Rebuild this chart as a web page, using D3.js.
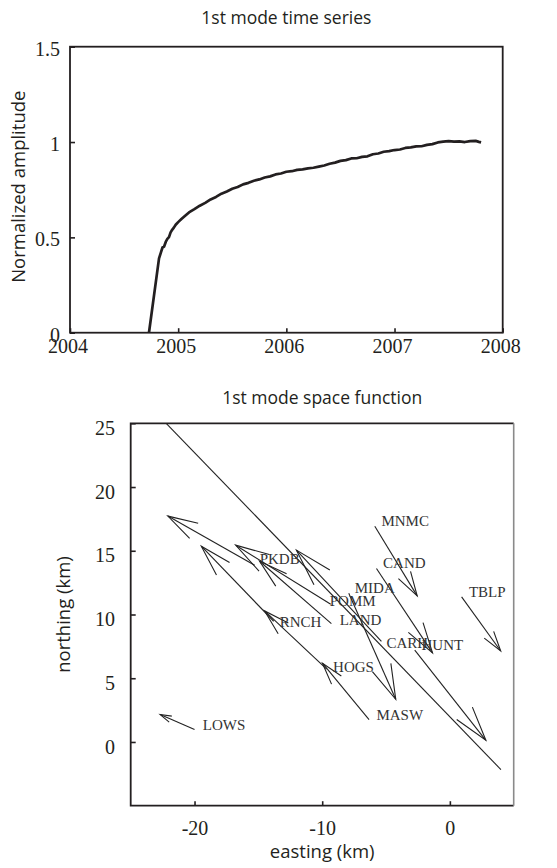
<!DOCTYPE html>
<html>
<head>
<meta charset="utf-8">
<script src="https://cdn.jsdelivr.net/npm/d3@7"></script>
<style>
  body { margin: 0; background: #fff; }
  svg { display: block; }
</style>
</head>
<body>
<svg id="fig" width="557" height="868"></svg>
<script>
// ---- 1st mode time series ----
const years = [
  2004.73, 2004.823, 2004.84, 2004.855, 2004.87, 2004.885, 2004.90, 2004.915, 2004.93, 2004.946,
  2004.96, 2004.977, 2005.00, 2005.03, 2005.07, 2005.10, 2005.15, 2005.20, 2005.25, 2005.30,
  2005.35, 2005.40, 2005.45, 2005.50, 2005.55, 2005.60, 2005.65, 2005.70, 2005.75, 2005.80,
  2005.85, 2005.90, 2005.95, 2006.00, 2006.05, 2006.10, 2006.15, 2006.20, 2006.25, 2006.30,
  2006.35, 2006.40, 2006.45, 2006.50, 2006.55, 2006.60, 2006.65, 2006.70, 2006.75, 2006.80,
  2006.85, 2006.90, 2006.95, 2007.00, 2007.05, 2007.10, 2007.15, 2007.20, 2007.25, 2007.30,
  2007.35, 2007.40, 2007.45, 2007.50, 2007.55, 2007.60, 2007.65, 2007.70, 2007.75, 2007.78,
  2007.80
];
const amplitude = [
  0.000, 0.390, 0.420, 0.447, 0.452, 0.476, 0.492, 0.501, 0.526, 0.541,
  0.551, 0.566, 0.580, 0.596, 0.616, 0.631, 0.648, 0.666, 0.681, 0.699,
  0.712, 0.729, 0.741, 0.755, 0.764, 0.778, 0.786, 0.797, 0.804, 0.814,
  0.820, 0.830, 0.835, 0.844, 0.847, 0.854, 0.857, 0.862, 0.865, 0.871,
  0.877, 0.886, 0.892, 0.901, 0.905, 0.914, 0.915, 0.922, 0.925, 0.936,
  0.940, 0.949, 0.952, 0.958, 0.961, 0.969, 0.972, 0.977, 0.978, 0.985,
  0.989, 0.998, 1.002, 1.005, 1.002, 1.003, 1.000, 1.005, 1.006, 1.001,
  0.998
];
const yearTicks = [2004, 2005, 2006, 2007, 2008];
const ampTicks = [0, 0.5, 1, 1.5];
const ampTickLabels = ["0", "0.5", "1", "1.5"];

// ---- 1st mode space function (km) ----
const stations   = ["MNMC", "CAND", "TBLP", "MIDA", "HUNT", "CARH", "PKDB", "POMM", "LAND", "RNCH", "HOGS", "MASW", "LOWS"];
const east       = [-5.88, -5.75, 0.92, -7.92, -2.75, -5.36, -15.29, -9.33, -9.28, -13.80, -9.65, -6.33, -20.00];
const north      = [16.93, 13.61, 11.38, 11.67, 7.20, 7.90, 13.87, 10.81, 9.29, 9.47, 5.71, 1.76, 0.97];
const dEast      = [3.32, 4.39, 3.06, 3.68, 5.57, -6.66, -6.80, -7.45, -5.62, -5.67, -4.86, -3.65, -2.69];
const dNorth     = [-5.47, -6.62, -4.24, -8.32, -7.07, 7.15, 3.85, 4.63, 4.89, 5.89, 4.57, 4.42, 1.18];
const labelEast  = [-5.36, -5.23, 1.49, -7.45, -2.22, -4.96, -14.90, -9.41, -8.63, -13.33, -9.15, -5.75, -19.35];
const labelNorth = [16.93, 13.61, 11.38, 11.65, 7.20, 7.39, 14.00, 10.65, 9.16, 9.03, 5.49, 1.76, 0.92];
const faultEast  = [-22.22, 4.00];
const faultNorth = [25.00, -2.17];
const eastTicks  = [-20, -10, 0];
const northTicks = [0, 5, 10, 15, 20, 25];

const svg = d3.select("#fig");
const serif = "'Liberation Serif', 'Times New Roman', serif";
const sans = "'Open Sans', 'Noto Sans', sans-serif";
const ink = "#231f20";

// ================= time-series panel =================
const tsBox = { x0: 70, x1: 502.7, y0: 46.7, y1: 332.7 };
const xT = d3.scaleLinear().domain([2004, 2008]).range([tsBox.x0, tsBox.x1]);
const yT = d3.scaleLinear().domain([0, 1.5]).range([tsBox.y1, tsBox.y0]);

const gTs = svg.append("g");

gTs.append("g")
  .attr("transform", `translate(0,${tsBox.y1})`)
  .call(d3.axisBottom(xT).tickValues(yearTicks).tickFormat(d3.format("d"))
        .tickSizeInner(-4.5).tickSizeOuter(0).tickPadding(6.4))
  .call(g => g.select(".domain").remove())
  .call(g => g.selectAll("line").attr("stroke", ink).attr("stroke-width", 1.6))
  .call(g => g.selectAll("text").attr("font-family", serif).attr("font-size", 20)
        .attr("fill", ink).attr("dx", -2.5));

gTs.append("g")
  .attr("transform", `translate(${tsBox.x0},0)`)
  .call(d3.axisLeft(yT).tickValues(ampTicks).tickFormat((d, i) => ampTickLabels[i])
        .tickSizeInner(-5).tickSizeOuter(0).tickPadding(10))
  .call(g => g.select(".domain").remove())
  .call(g => g.selectAll("line").attr("stroke", ink).attr("stroke-width", 1.6))
  .call(g => g.selectAll("text").attr("font-family", serif).attr("font-size", 20)
        .attr("fill", ink).attr("dy", "0.42em"));

const series = years.map((t, i) => [t, amplitude[i]]);
gTs.append("path")
  .datum(series)
  .attr("fill", "none")
  .attr("stroke", ink)
  .attr("stroke-width", 2.7)
  .attr("stroke-linejoin", "round")
  .attr("d", d3.line().x(d => xT(d[0])).y(d => yT(d[1])));

gTs.append("rect")
  .attr("x", tsBox.x0).attr("y", tsBox.y0)
  .attr("width", tsBox.x1 - tsBox.x0).attr("height", tsBox.y1 - tsBox.y0)
  .attr("fill", "none").attr("stroke", ink).attr("stroke-width", 1.8);

gTs.append("text")
  .attr("x", (tsBox.x0 + tsBox.x1) / 2).attr("y", 24)
  .attr("text-anchor", "middle")
  .attr("font-family", sans).attr("font-size", 17.5).attr("fill", ink)
  .text("1st mode time series");

gTs.append("text")
  .attr("transform", `translate(25,${(tsBox.y0 + tsBox.y1) / 2 - 3}) rotate(-90)`)
  .attr("text-anchor", "middle")
  .attr("font-family", sans).attr("font-size", 18.5).attr("fill", ink)
  .text("Normalized amplitude");

// ================= space-function panel =================
const mapBox = { x0: 130.7, x1: 513.7, y0: 423.3, y1: 805.7 };
const xB = d3.scaleLinear().domain([-25, 5]).range([mapBox.x0, mapBox.x1]);
const yB = d3.scaleLinear().domain([-5, 25]).range([mapBox.y1, mapBox.y0]);

const gMap = svg.append("g");

gMap.append("g")
  .attr("transform", `translate(0,${mapBox.y1})`)
  .call(d3.axisBottom(xB).tickValues(eastTicks).tickFormat(d3.format("d"))
        .tickSizeInner(-4.5).tickSizeOuter(0).tickPadding(15))
  .call(g => g.select(".domain").remove())
  .call(g => g.selectAll("line").attr("stroke", ink).attr("stroke-width", 1.6))
  .call(g => g.selectAll("text").attr("font-family", serif).attr("font-size", 20)
        .attr("fill", ink).text(d => d < 0 ? "-" + Math.abs(d) : String(d)));

gMap.append("g")
  .attr("transform", `translate(${mapBox.x0},0)`)
  .call(d3.axisLeft(yB).tickValues(northTicks).tickFormat(d3.format("d"))
        .tickSizeInner(-5).tickSizeOuter(0).tickPadding(15.7))
  .call(g => g.select(".domain").remove())
  .call(g => g.selectAll("line").attr("stroke", ink).attr("stroke-width", 1.6))
  .call(g => g.selectAll("text").attr("font-family", serif).attr("font-size", 20)
        .attr("fill", ink).attr("dy", "0.56em"));

// fault trace
gMap.append("line")
  .attr("x1", xB(faultEast[0])).attr("y1", yB(faultNorth[0]))
  .attr("x2", xB(faultEast[1])).attr("y2", yB(faultNorth[1]))
  .attr("stroke", "#222").attr("stroke-width", 1.1);

// quiver arrows: shaft from station, two barbs at the tip
const headLen = 0.30, headWide = 0.29;
const arrows = stations.map((s, i) => {
  const x0 = xB(east[i]), y0 = yB(north[i]);
  const x1 = xB(east[i] + dEast[i]), y1 = yB(north[i] + dNorth[i]);
  const u = x1 - x0, v = y1 - y0;
  const b1 = [x1 - headLen * (u + headWide * v), y1 - headLen * (v - headWide * u)];
  const b2 = [x1 - headLen * (u - headWide * v), y1 - headLen * (v + headWide * u)];
  return { s, pts: [[x0, y0], [x1, y1]], head: [b1, [x1, y1], b2] };
});

const gArrows = gMap.append("g")
  .attr("fill", "none").attr("stroke", "#222").attr("stroke-width", 1.1)
  .attr("stroke-linejoin", "miter");
gArrows.selectAll("path.shaft").data(arrows).join("path")
  .attr("class", "shaft").attr("d", d => d3.line()(d.pts));
gArrows.selectAll("path.head").data(arrows).join("path")
  .attr("class", "head").attr("d", d => d3.line()(d.head));

gMap.append("g").selectAll("text").data(stations).join("text")
  .attr("x", (d, i) => xB(labelEast[i]))
  .attr("y", (d, i) => yB(labelNorth[i]))
  .attr("font-family", serif).attr("font-size", 15).attr("fill", "#333")
  .text(d => d);

// frame: right edge drawn lighter
gMap.append("path")
  .attr("d", `M${mapBox.x1},${mapBox.y0}H${mapBox.x0}V${mapBox.y1}H${mapBox.x1}`)
  .attr("fill", "none").attr("stroke", ink).attr("stroke-width", 1.8);
gMap.append("line")
  .attr("x1", mapBox.x1).attr("y1", mapBox.y0).attr("x2", mapBox.x1).attr("y2", mapBox.y1)
  .attr("stroke", "#8a8a8a").attr("stroke-width", 1.6);

gMap.append("text")
  .attr("x", (mapBox.x0 + mapBox.x1) / 2).attr("y", 404)
  .attr("text-anchor", "middle")
  .attr("font-family", sans).attr("font-size", 17.5).attr("fill", ink)
  .text("1st mode space function");

gMap.append("text")
  .attr("x", (mapBox.x0 + mapBox.x1) / 2).attr("y", 858)
  .attr("text-anchor", "middle")
  .attr("font-family", sans).attr("font-size", 18.5).attr("fill", ink)
  .text("easting (km)");

gMap.append("text")
  .attr("transform", `translate(70,${(mapBox.y0 + mapBox.y1) / 2}) rotate(-90)`)
  .attr("text-anchor", "middle")
  .attr("font-family", sans).attr("font-size", 18.5).attr("fill", ink)
  .text("northing (km)");
</script>
</body>
</html>
